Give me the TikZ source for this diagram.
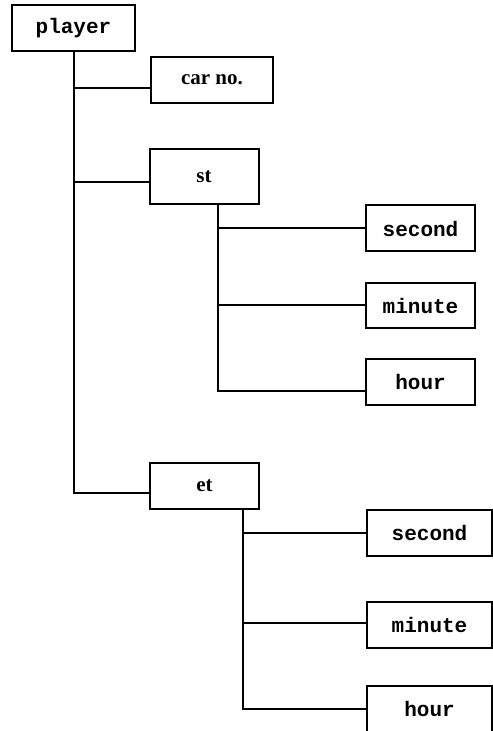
\documentclass[tikz,border=0pt]{standalone}
\usepackage{fontspec}
\setmainfont{Liberation Serif}
\setmonofont{Liberation Mono}
\begin{document}
\begin{tikzpicture}[
    x=0.5pt, y=-0.5pt,
    box/.style={rectangle, draw, line width=1pt, inner sep=0pt, minimum width=54.5pt, minimum height=23pt, font=\fontsize{10.5}{12}\selectfont\bfseries},
    code/.style={box, font=\fontsize{10.5}{12}\selectfont\ttfamily\bfseries},
    wide/.style={minimum width=62.5pt},
    link/.style={line width=1pt}
]
    \useasboundingbox (0,0) rectangle (492,731);

    \node[code, minimum width=61.5pt] (player) at (73.5,28.5) {player};
    \node[box, minimum width=61pt] (carno) at (212,80) {car no.};
    \node[box, minimum height=27.5pt] (st) at (204,176.5) {st};
    \node[code] (stsec) at (420.5,228.5) {second};
    \node[code, minimum height=22.5pt] (stmin) at (420.5,305.5) {minute};
    \node[code] (sthour) at (420.5,382) {hour};
    \node[box] (et) at (204.5,486) {et};
    \node[code, wide] (etsec) at (429.5,532.5) {second};
    \node[code, wide] (etmin) at (429.5,625) {minute};
    \node[code, wide] (ethour) at (429.5,709) {hour};

    \draw[link] (player.south) |- ([yshift=-4pt]carno.west);
    \draw[link] (player.south) |- ([yshift=-2.75pt]st.west);
    \draw[link] (player.south) |- ([yshift=-3.5pt]et.west);

    \draw[link] ([xshift=7pt]st.south) |- (stsec.west);
    \draw[link] ([xshift=7pt]st.south) |- (stmin.west);
    \draw[link] ([xshift=7pt]st.south) |- ([yshift=-4.5pt]sthour.west);

    \draw[link] ([xshift=19.25pt]et.south) |- (etsec.west);
    \draw[link] ([xshift=19.25pt]et.south) |- ([yshift=1pt]etmin.west);
    \draw[link] ([xshift=19.25pt]et.south) |- (ethour.west);
\end{tikzpicture}
\end{document}
